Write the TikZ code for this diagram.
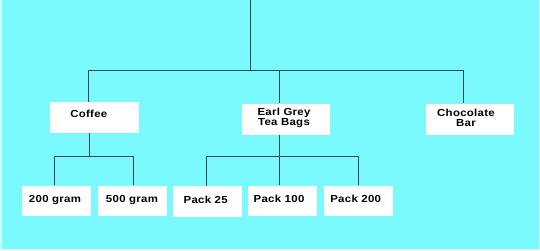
\documentclass[tikz,border=0pt]{standalone}
\usepackage{fontspec}
\setmainfont{Liberation Sans}[FakeStretch=1.12,LetterSpace=3]
\definecolor{sky}{RGB}{122,250,255}
\definecolor{rim}{RGB}{205,255,255}
\definecolor{wire}{RGB}{40,75,75}
\begin{document}
\begin{tikzpicture}[x=1pt,y=-1pt,
  conn/.style={draw=wire, line width=0.9pt},
  box/.style={fill=white, draw=none, inner sep=0pt},
  topbox/.style={box, minimum width=88.5pt, minimum height=31pt},
  leafbox/.style={box, minimum width=69pt, minimum height=30.5pt},
  lbl/.style={inner sep=0pt, align=center, font=\bfseries\fontsize{10.2}{10.4}\selectfont}]
  % canvas
  \useasboundingbox (0,0) rectangle (540,250);
  \fill[sky] (0,0) rectangle (540,250);
  \draw[rim, line width=1.5pt] (0.75,0) -- (0.75,249.25) -- (539.25,249.25) -- (539.25,0);

  % first level
  \node[topbox] (coffee) at (94.4,117.5) {};
  \node[topbox] (earl)   at (285.8,119) {};
  \node[topbox] (choc)   at (469.8,119) {};
  \node[lbl] (coffeeT) at (88.8,113.5) {Coffee};
  \node[lbl] (earlT)   at (284,118) {Earl Grey\\Tea Bags};
  \node[lbl] (chocT)   at (466,118) {Chocolate\\Bar};

  % second level
  \node[leafbox] (g200) at (56.2,200.8) {};
  \node[leafbox] (g500) at (132.5,200.8) {};
  \node[leafbox] (p25)  at (207.8,201.5) {};
  \node[leafbox] (p100) at (282.3,200.8) {};
  \node[leafbox] (p200) at (358.2,200.8) {};
  \node[lbl] (g200T) at (55,200) {200 gram};
  \node[lbl] (g500T) at (132,200) {500 gram};
  \node[lbl] (p25T)  at (205.7,200) {Pack 25};
  \node[lbl] (p100T) at (279,199.3) {Pack 100};
  \node[lbl] (p200T) at (355.7,199.3) {Pack 200};

  % connector joints
  \coordinate (root) at (250,0);
  \coordinate (bus)  at (250,70);
  \coordinate (c1) at (88.6,70);
  \coordinate (c2) at (279.5,70);
  \coordinate (c3) at (463,70);
  \coordinate (cstem) at (89.7,156);
  \coordinate (k1) at (54,156);
  \coordinate (k2) at (133,156);
  \coordinate (e1) at (206,156);
  \coordinate (e2) at (279.5,156);
  \coordinate (e3) at (358.6,156);

  % root to first level
  \draw[conn] (root) -- (bus);
  \draw[conn] (c1) -- (c3);
  \draw[conn] (c1) -- (c1 |- coffee.north);
  \draw[conn] (c2) -- (c2 |- earl.north);
  \draw[conn] (c3) -- (c3 |- choc.north);

  % coffee sizes
  \draw[conn] (cstem |- coffee.south) -- (cstem);
  \draw[conn] (k1) -- (k2);
  \draw[conn] (k1) -- (k1 |- g200.north);
  \draw[conn] (k2) -- (k2 |- g500.north);

  % tea packs
  \draw[conn] (e1) -- (e3);
  \draw[conn] (e2 |- earl.south) -- (e2 |- p100.north);
  \draw[conn] (e1) -- (e1 |- p25.north);
  \draw[conn] (e3) -- (e3 |- p200.north);
\end{tikzpicture}
\end{document}
